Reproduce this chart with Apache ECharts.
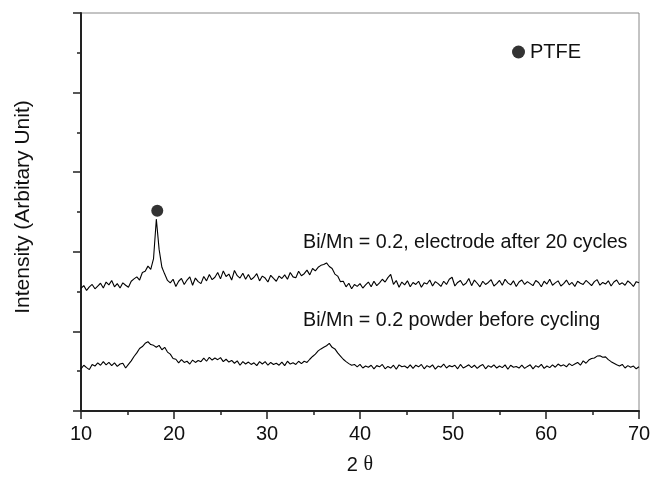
<!DOCTYPE html>
<html>
<head>
<meta charset="utf-8">
<script src="https://cdn.jsdelivr.net/npm/echarts@6/dist/echarts.min.js"></script>
<style>html,body{margin:0;padding:0;background:#fff}#c{width:650px;height:477px}</style>
</head>
<body>
<div id="c"></div>
<script>
// 2-theta sampling grid: start 10.0 deg, step 0.3 deg, 201 points
const thetaStart = 10.0;
const thetaStep = 0.3;
const xTicks = [10, 20, 30, 40, 50, 60, 70];

// Bi/Mn = 0.2, electrode after 20 cycles
const electrode = [
  308,315,303,312,318,307,314,321,309,324,
  317,328,312,320,309,322,316,311,326,332,
  337,329,348,351,364,356,383,482,406,361,
  344,328,322,331,313,326,333,318,329,337,
  316,334,325,320,338,327,343,330,336,348,
  332,352,338,344,329,353,340,334,346,331,
  343,330,336,345,327,339,334,324,341,333,
  326,339,333,342,331,348,337,335,351,340,
  345,354,342,358,352,361,366,368,372,363,
  358,344,339,325,326,312,321,307,318,313,
  320,309,317,324,312,326,315,322,331,324,
  335,343,318,328,311,324,317,327,312,323,
  318,326,311,322,319,329,314,325,320,313,
  326,318,331,336,314,323,328,316,321,333,
  315,329,321,312,326,318,323,330,314,320,
  328,316,331,322,317,327,313,324,329,318,
  325,320,315,328,323,312,326,319,331,316,
  322,327,314,320,329,317,323,313,326,321,
  318,328,322,315,325,330,316,323,319,327,
  314,324,329,318,322,316,327,321,313,325,
  322
];

// Bi/Mn = 0.2 powder before cycling
const powder = [
  106,115,109,104,117,113,121,115,124,116,
  122,114,121,112,118,120,108,117,126,137,
  146,157,162,170,174,167,165,160,165,154,
  160,148,143,132,130,121,129,122,125,118,
  128,122,127,124,133,125,135,128,133,129,
  134,124,130,123,127,120,126,115,124,118,
  123,117,121,114,124,118,124,115,122,117,
  120,115,123,114,125,118,121,117,125,119,
  125,122,130,137,143,151,156,160,164,170,
  160,156,146,138,130,124,119,115,117,111,
  117,108,113,110,115,106,114,111,117,106,
  112,108,115,105,116,111,113,108,116,107,
  115,111,117,106,114,110,116,105,113,110,
  118,108,114,111,115,106,117,108,112,116,
  109,115,107,113,117,106,114,110,116,108,
  113,109,116,105,115,110,112,108,115,107,
  112,116,106,114,110,117,107,113,109,116,
  110,118,113,116,111,119,114,118,122,115,
  126,120,128,132,133,138,139,135,136,129,
  124,120,116,113,117,108,114,110,113,106,
  111
];

// PTFE peak marker
const ptfeMarker = [[18.2, 503]];

const labels = {
  electrode: 'Bi/Mn = 0.2, electrode after 20 cycles',
  powder: 'Bi/Mn = 0.2 powder before cycling',
  xName: '2 {t|θ}',
  yName: 'Intensity (Arbitary Unit)',
  ptfe: 'PTFE'
};

function pairs(arr) {
  return arr.map((v, i) => [+(thetaStart + i * thetaStep).toFixed(2), v]);
}

const FONT = '"Liberation Sans", Arial, sans-serif';
const chart = echarts.init(document.getElementById('c'), null, {renderer: 'canvas'});
chart.setOption({
  animation: false,
  backgroundColor: '#fff',
  textStyle: {fontFamily: FONT},
  grid: {left: 81, right: 11, top: 13, bottom: 66, show: true, borderColor: '#888', borderWidth: 1,
         containLabel: false, outerBoundsMode: 'none'},
  legend: {
    data: [labels.ptfe],
    left: 512, top: 42, padding: 0,
    icon: 'circle', itemWidth: 13, itemHeight: 13, itemGap: 6,
    textStyle: {fontFamily: FONT, fontSize: 20, color: '#111'}
  },
  xAxis: {
    type: 'value', min: 10, max: 70, interval: 10,
    name: labels.xName, nameLocation: 'middle', nameGap: 44,
    nameTextStyle: {fontFamily: FONT, fontSize: 20, color: '#111',
      rich: {t: {fontFamily: '"Liberation Serif", "DejaVu Serif", serif', fontSize: 20, color: '#111'}}},
    axisLine: {show: true, lineStyle: {color: '#222', width: 2}},
    axisTick: {show: true, inside: false, length: 8, lineStyle: {color: '#222', width: 1.5}},
    minorTick: {show: true, splitNumber: 2, length: 4, lineStyle: {color: '#222', width: 1.5}},
    axisLabel: {fontFamily: FONT, fontSize: 20, color: '#111', margin: 13},
    splitLine: {show: false}
  },
  yAxis: {
    type: 'value', min: 0, max: 1000, interval: 200,
    name: labels.yName, nameLocation: 'middle', nameGap: 47, nameRotate: 90,
    nameTextStyle: {fontFamily: FONT, fontSize: 21, color: '#111', padding: [0, 0, 0, 10]},
    axisLine: {show: true, lineStyle: {color: '#222', width: 2}},
    axisTick: {show: true, inside: false, length: 8, lineStyle: {color: '#222', width: 1.5}},
    minorTick: {show: true, splitNumber: 2, length: 4, lineStyle: {color: '#222', width: 1.5}},
    axisLabel: {show: false},
    splitLine: {show: false}
  },
  graphic: [
    {type: 'text', left: 303, top: 233, style: {text: labels.electrode, font: '19.7px ' + FONT, fill: '#111'}},
    {type: 'text', left: 303, top: 311, style: {text: labels.powder, font: '19.7px ' + FONT, fill: '#111'}}
  ],
  series: [
    {name: 'electrode', type: 'line', data: pairs(electrode), showSymbol: false, symbol: 'none',
     lineStyle: {color: '#000', width: 1.1}, itemStyle: {color: '#000'}},
    {name: 'powder', type: 'line', data: pairs(powder), showSymbol: false, symbol: 'none',
     lineStyle: {color: '#000', width: 1.1}, itemStyle: {color: '#000'}},
    {name: labels.ptfe, type: 'scatter', data: ptfeMarker, symbol: 'circle', symbolSize: 12,
     itemStyle: {color: '#000'}}
  ]
});
</script>
</body>
</html>
